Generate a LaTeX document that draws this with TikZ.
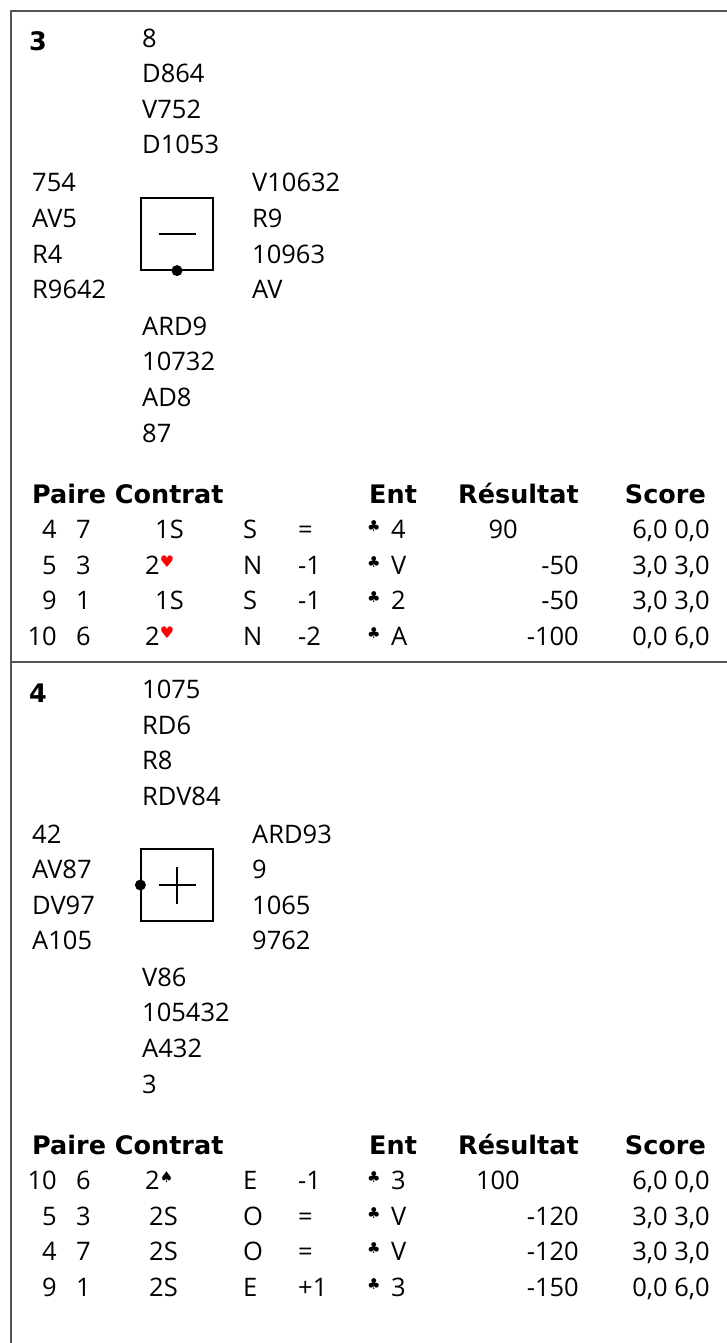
\documentclass[tikz,border=0pt]{standalone}
\usepackage{fontspec}
\setmainfont{Open Sans}
\newfontfamily\symf{DejaVu Sans}
\definecolor{framec}{HTML}{555555}
\definecolor{hredc}{HTML}{FF0000}
\newcommand\hrtsym{\raisebox{6.5pt}{\symf\fontsize{16}{16}\selectfont\color{hredc}♥}}
\newcommand\spdsym{\raisebox{6.5pt}{\symf\fontsize{15}{15}\selectfont ♠}}
\newcommand\brow[9]{%
  \node[txt,anchor=base east] (#1a) at (57,#2) {#3};
  \node[txt] (#1b) at (76,#2) {#4};
  \node[txt] (#1c) at (145,#2) {#5};
  \node[txt] (#1d) at (243,#2) {#6};
  \node[txt] (#1e) at (298,#2) {#7};
  \node[clubst] (#1f) at (367,#2-7) {♣};
  \node[txt] (#1g) at (391,#2) {#8};
  \node[txt,anchor=base east] (#1h) at (710,#2) {#9};
}
\begin{document}
\begin{tikzpicture}[x=1pt,y=-1pt,
  txt/.style={anchor=base west,inner sep=0pt,font=\fontsize{25.5}{30}\selectfont},
  btxt/.style={txt,font=\symf\fontsize{25.5}{30}\selectfont\bfseries},
  clubst/.style={anchor=base west,inner sep=0pt,font=\symf\fontsize{15}{15}\selectfont},
  frameline/.style={draw=framec,line width=1.6pt},
  boxst/.style={draw=black,line width=1.2pt,minimum size=72pt,inner sep=0pt}]
\useasboundingbox (0,0) rectangle (727,1343);
\draw[frameline] (727,11) -- (11,11) -- (11,1343);
\draw[frameline] (11,662) -- (727,662);

% ---------- Board 3 ----------
\node[btxt] (b3) at (29,51) {3};
\node[txt] (n3a) at (142,47.5) {8};
\node[txt] (n3b) at (142,83) {D864};
\node[txt] (n3c) at (142,118.5) {V752};
\node[txt] (n3d) at (142,154) {D1053};
\node[txt] (w3a) at (32,192) {754};
\node[txt] (w3b) at (32,227) {AV5};
\node[txt] (w3c) at (32,263) {R4};
\node[txt] (w3d) at (32,298) {R9642};
\node[txt] (e3a) at (252,192) {V10632};
\node[txt] (e3b) at (252,227) {R9};
\node[txt] (e3c) at (252,263) {10963};
\node[txt] (e3d) at (252,298) {AV};
\node[txt] (s3a) at (142,335) {ARD9};
\node[txt] (s3b) at (142,370) {10732};
\node[txt] (s3c) at (142,406) {AD8};
\node[txt] (s3d) at (142,442) {87};
\node[boxst] (box3) at (177,234) {};
\draw[line width=1.2pt] ([xshift=-18.5pt]box3.center) -- ([xshift=18.5pt]box3.center);
\fill (box3.south) circle (5.5pt);

\node[btxt] (h3a) at (32,503) {Paire Contrat};
\node[btxt] (h3b) at (369,503) {Ent};
\node[btxt] (h3c) at (458,503) {Résultat};
\node[btxt,anchor=base east] (h3d) at (706,503) {Score};
\brow{r3a}{538}{4}{7}{\hspace*{10pt}1S}{S}{=}{4}{6,0 0,0}
\brow{r3b}{574}{5}{3}{2\hrtsym}{N}{-1}{V}{3,0 3,0}
\brow{r3c}{609}{9}{1}{\hspace*{10pt}1S}{S}{-1}{2}{3,0 3,0}
\brow{r3d}{645}{10}{6}{2\hrtsym}{N}{-2}{A}{0,0 6,0}
\node[txt,anchor=base east] (v3a) at (518,538) {90};
\node[txt,anchor=base east] (v3b) at (579,574) {-50};
\node[txt,anchor=base east] (v3c) at (579,609) {-50};
\node[txt,anchor=base east] (v3d) at (579,645) {-100};

% ---------- Board 4 ----------
\begin{scope}[yshift=-651pt]
\node[btxt] (b4) at (29,51) {4};
\node[txt] (n4a) at (142,47.5) {1075};
\node[txt] (n4b) at (142,83) {RD6};
\node[txt] (n4c) at (142,118.5) {R8};
\node[txt] (n4d) at (142,154) {RDV84};
\node[txt] (w4a) at (32,192) {42};
\node[txt] (w4b) at (32,227) {AV87};
\node[txt] (w4c) at (32,263) {DV97};
\node[txt] (w4d) at (32,298) {A105};
\node[txt] (e4a) at (252,192) {ARD93};
\node[txt] (e4b) at (252,227) {9};
\node[txt] (e4c) at (252,263) {1065};
\node[txt] (e4d) at (252,298) {9762};
\node[txt] (s4a) at (142,335) {V86};
\node[txt] (s4b) at (142,370) {105432};
\node[txt] (s4c) at (142,406) {A432};
\node[txt] (s4d) at (142,442) {3};
\node[boxst] (box4) at (177,234) {};
\draw[line width=1.2pt] ([xshift=-18.5pt]box4.center) -- ([xshift=18.5pt]box4.center);
\draw[line width=1.2pt] ([yshift=-18.5pt]box4.center) -- ([yshift=18.5pt]box4.center);
\fill (box4.west) circle (5.5pt);

\node[btxt] (h4a) at (32,503) {Paire Contrat};
\node[btxt] (h4b) at (369,503) {Ent};
\node[btxt] (h4c) at (458,503) {Résultat};
\node[btxt,anchor=base east] (h4d) at (706,503) {Score};
\brow{r4a}{538}{10}{6}{2\spdsym}{E}{-1}{3}{6,0 0,0}
\brow{r4b}{574}{5}{3}{\hspace*{4pt}2S}{O}{=}{V}{3,0 3,0}
\brow{r4c}{609}{4}{7}{\hspace*{4pt}2S}{O}{=}{V}{3,0 3,0}
\brow{r4d}{645}{9}{1}{\hspace*{4pt}2S}{E}{+1}{3}{0,0 6,0}
\node[txt,anchor=base east] (v4a) at (520,538) {100};
\node[txt,anchor=base east] (v4b) at (579,574) {-120};
\node[txt,anchor=base east] (v4c) at (579,609) {-120};
\node[txt,anchor=base east] (v4d) at (579,645) {-150};
\end{scope}
\end{tikzpicture}
\end{document}
